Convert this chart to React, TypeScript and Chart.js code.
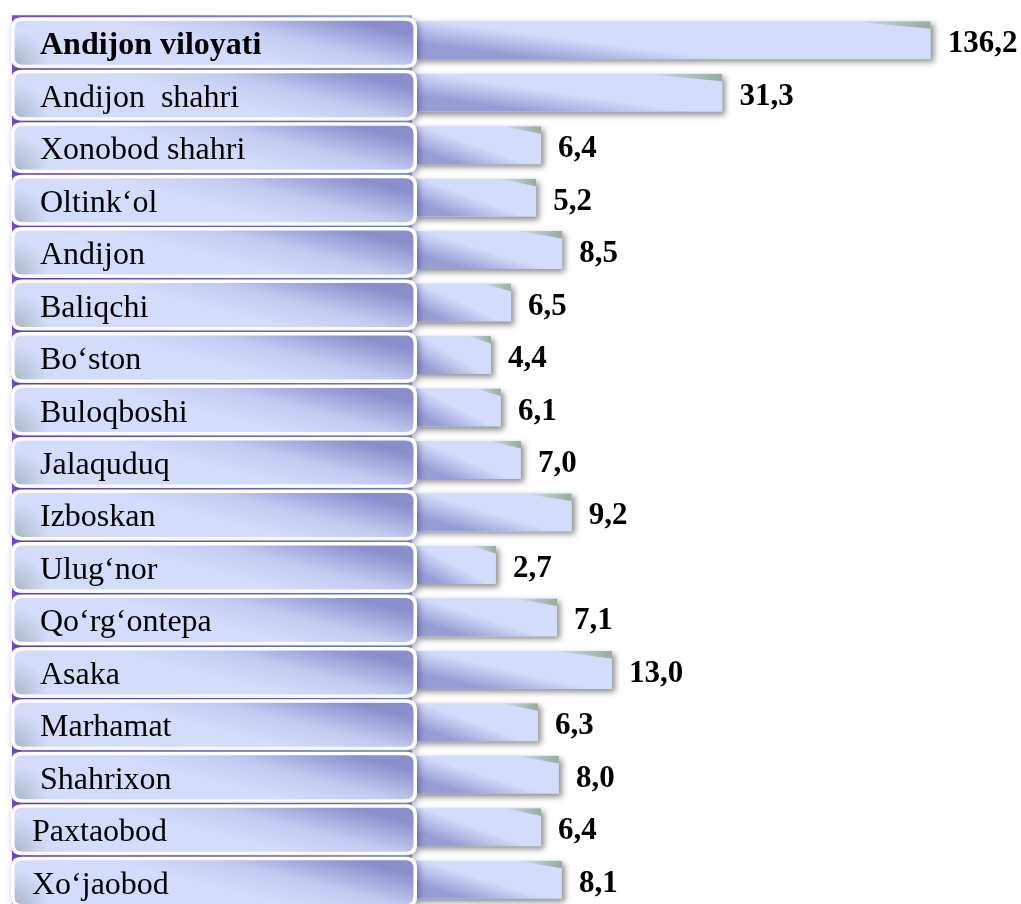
import { useEffect, useRef } from "react";
import { Chart, registerables } from "chart.js";

Chart.register(...registerables);

// Category labels (a leading space reproduces the source's indentation)
const categories = [
  " Andijon viloyati",
  " Andijon  shahri",
  " Xonobod shahri",
  " Oltink‘ol",
  " Andijon",
  " Baliqchi",
  " Bo‘ston",
  " Buloqboshi",
  " Jalaquduq",
  " Izboskan",
  " Ulug‘nor",
  " Qo‘rg‘ontepa",
  " Asaka",
  " Marhamat",
  " Shahrixon",
  "Paxtaobod",
  "Xo‘jaobod",
];

// Printed values
const values = [136.2, 31.3, 6.4, 5.2, 8.5, 6.5, 4.4, 6.1, 7.0, 9.2, 2.7, 7.1, 13.0, 6.3, 8.0, 6.4, 8.1];

// Bar lengths as drawn in the source (the source is not drawn to scale)
const barLengths = [136.2, 81.3, 33.5, 32.2, 39.1, 25.6, 20.3, 22.9, 28.2, 41.6, 21.6, 37.7, 52.2, 32.7, 38.2, 33.5, 39.0];

const AXIS_MAX = 160;
const SERIF = '"Liberation Serif", "Times New Roman", serif';

function roundRect(ctx: CanvasRenderingContext2D, x: number, y: number, w: number, h: number, r: number) {
  ctx.beginPath();
  ctx.moveTo(x + r, y);
  ctx.lineTo(x + w - r, y);
  ctx.quadraticCurveTo(x + w, y, x + w, y + r);
  ctx.lineTo(x + w, y + h - r);
  ctx.quadraticCurveTo(x + w, y + h, x + w - r, y + h);
  ctx.lineTo(x + r, y + h);
  ctx.quadraticCurveTo(x, y + h, x, y + h - r);
  ctx.lineTo(x, y + r);
  ctx.quadraticCurveTo(x, y, x + r, y);
  ctx.closePath();
}

const decorPlugin = {
  id: "decor",
  beforeDatasetsDraw(chart: any) {
    const ctx: CanvasRenderingContext2D = chart.ctx;
    const yS = chart.scales.y;
    const top = yS.getPixelForValue(0) - 25;
    ctx.save();
    const g = ctx.createLinearGradient(12, 0, 412, 0);
    g.addColorStop(0, "#7a4fd4");
    g.addColorStop(1, "#8fb4dc");
    ctx.fillStyle = g;
    ctx.fillRect(12, top, 400, chart.height - top);
    ctx.restore();
    // drop shadow for bars
    ctx.save();
    ctx.shadowColor = "rgba(0,0,0,0.45)";
    ctx.shadowBlur = 6;
    ctx.shadowOffsetX = 3;
    ctx.shadowOffsetY = 3;
  },
  afterDatasetsDraw(chart: any) {
    const ctx: CanvasRenderingContext2D = chart.ctx;
    ctx.restore();
    const yS = chart.scales.y;
    const meta = chart.getDatasetMeta(0);

    // bar shading overlays
    meta.data.forEach((el: any) => {
      const { x, y: cy, base, height } = el.getProps(["x", "y", "base", "height"], true);
      const w = x - base;
      const h = height;
      const t = cy - h / 2;
      const b = cy + h / 2;
      ctx.save();
      ctx.beginPath();
      ctx.rect(base, t, w, h);
      ctx.clip();
      // dark bottom-left region
      const reach = Math.min(0.75 * w, 260);
      const y0 = t + 0.1 * h;
      const dx = reach;
      const dy = b - y0;
      const len = Math.hypot(dx, dy);
      const nx = -dy / len;
      const ny = dx / len;
      const mx = base + reach / 2;
      const my = (y0 + b) / 2;
      const s = h * 0.45;
      const dg = ctx.createLinearGradient(mx - nx * s * 0.4, my - ny * s * 0.4, mx + nx * s, my + ny * s);
      dg.addColorStop(0, "rgba(140,144,206,0)");
      dg.addColorStop(1, "rgba(136,140,203,0.8)");
      ctx.fillStyle = dg;
      ctx.fillRect(base, t, w, h);
      // green-grey tint at top-right
      const gl = Math.min(0.3 * w, 80);
      const gg = ctx.createLinearGradient(x - gl, 0, x, 0);
      gg.addColorStop(0, "rgba(125,150,115,0)");
      gg.addColorStop(1, "rgba(125,150,115,0.7)");
      ctx.fillStyle = gg;
      ctx.beginPath();
      ctx.moveTo(x - gl, t);
      ctx.lineTo(x, t);
      ctx.lineTo(x, t + h * 0.2);
      ctx.quadraticCurveTo(x - gl * 0.4, t + h * 0.12, x - gl, t);
      ctx.closePath();
      ctx.fill();
      ctx.restore();
    });

    // label boxes
    categories.forEach((label, i) => {
      const cy = yS.getPixelForValue(i);
      const bx = 11;
      const bw = 406;
      const by = cy - 23;
      const bh = 51;
      ctx.save();
      ctx.shadowColor = "rgba(40,40,90,0.45)";
      ctx.shadowBlur = 6;
      ctx.shadowOffsetX = 2;
      ctx.shadowOffsetY = 2;
      roundRect(ctx, bx, by, bw, bh, 11);
      ctx.fillStyle = "#ffffff";
      ctx.fill();
      ctx.restore();

      const ix = bx + 3.5;
      const iy = by + 3.5;
      const iw = bw - 7;
      const ih = bh - 7;
      const mx = 320;
      const my = iy + ih / 2;
      const n = [0.2426, -0.9701];
      const L = 30;
      const fg = ctx.createLinearGradient(mx - n[0] * L, my - n[1] * L, mx + n[0] * L, my + n[1] * L);
      fg.addColorStop(0, "#d3dcfb");
      fg.addColorStop(0.45, "#c2caf1");
      fg.addColorStop(1, "#8a8ecb");
      ctx.save();
      roundRect(ctx, ix, iy, iw, ih, 8);
      ctx.fillStyle = fg;
      ctx.fill();
      ctx.clip();
      // soft shade in the bottom-left corner
      const rg = ctx.createRadialGradient(ix, iy + ih, 0, ix, iy + ih, 34);
      rg.addColorStop(0, "rgba(110,130,120,0.4)");
      rg.addColorStop(1, "rgba(110,130,120,0)");
      ctx.fillStyle = rg;
      ctx.fillRect(ix, iy, 60, ih);
      ctx.restore();

      ctx.save();
      ctx.fillStyle = "#000";
      ctx.font = (i === 0 ? "bold " : "") + "32px " + SERIF;
      ctx.textBaseline = "alphabetic";
      ctx.textAlign = "left";
      ctx.fillText(label, 32, cy + 14);
      ctx.restore();
    });

    // value labels
    meta.data.forEach((el: any, i: number) => {
      const { x, y: cy } = el.getProps(["x", "y"], true);
      ctx.save();
      ctx.fillStyle = "#000";
      ctx.font = "bold 31px " + SERIF;
      ctx.textBaseline = "alphabetic";
      ctx.textAlign = "left";
      ctx.fillText(values[i].toFixed(1).replace(".", ","), x + 17, cy + 12);
      ctx.restore();
    });
  },
};

export default function App() {
  const ref = useRef<HTMLCanvasElement | null>(null);
  useEffect(() => {
    if (!ref.current) return;
    const chart = new Chart(ref.current, {
      type: "bar",
      data: {
        labels: categories,
        datasets: [
          {
            data: barLengths,
            backgroundColor: "#d3ddfb",
            borderWidth: 0,
            barPercentage: 0.724,
            categoryPercentage: 1,
          },
        ],
      },
      options: {
        indexAxis: "y",
        responsive: false,
        animation: false,
        layout: { padding: { left: 414, right: 0, top: 14, bottom: 0 } },
        scales: {
          x: { display: false, min: 0, max: AXIS_MAX },
          y: { display: false },
        },
        plugins: { legend: { display: false }, tooltip: { enabled: false } },
      },
      plugins: [decorPlugin],
    });
    return () => chart.destroy();
  }, []);
  return (
    <div style={{ position: "fixed", left: 0, top: 0, width: 1021, height: 906, background: "#fff" }}>
      <canvas ref={ref} width={1021} height={906} style={{ display: "block" }} />
    </div>
  );
}
